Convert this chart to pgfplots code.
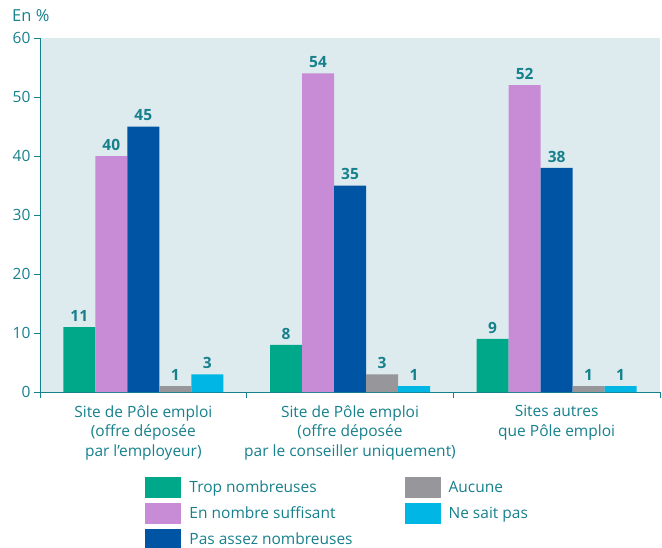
\documentclass[border=0pt]{standalone}
\usepackage{pgfplots}
\pgfplotsset{compat=1.18}
\usepackage{fontspec}
\setmainfont{Open Sans}
\definecolor{tealtxt}{RGB}{22,128,140}
\definecolor{bgc}{RGB}{221,235,238}
\definecolor{cgreen}{RGB}{0,168,138}
\definecolor{clilac}{RGB}{200,140,215}
\definecolor{cblue}{RGB}{0,84,164}
\definecolor{cgray}{RGB}{150,150,155}
\definecolor{ccyan}{RGB}{0,182,228}
\begin{document}
\begin{tikzpicture}[x=1pt,y=1pt]
\path[use as bounding box] (0,0) rectangle (662,547);
\node[anchor=base west, text=tealtxt, font=\fontsize{16.5}{16.5}\selectfont, inner sep=0pt] at (12,525) {En \%};
\begin{axis}[
  at={(40pt,155pt)}, anchor=south west,
  scale only axis, width=620pt, height=354pt,
  xmin=-0.5, xmax=2.5, ymin=0, ymax=60,
  ybar=0pt, bar width=32pt,
  axis lines=left,
  axis line style={-, draw=tealtxt, line width=0.9pt},
  axis background/.style={fill=bgc},
  xtick={-0.5,0.5,1.5,2.5}, xticklabels={},
  extra x ticks={0,1,2},
  extra x tick labels={{Site de Pôle emploi\\(offre déposée\\par l'employeur)},{Site de Pôle emploi\\(offre déposée\\par le conseiller uniquement)},{Sites autres\\que Pôle emploi}},
  extra x tick style={major tick length=0pt, tick label style={align=center, text=tealtxt, font=\fontsize{15.5}{19.5}\selectfont, yshift=-10pt}},
  ytick={0,10,...,60},
  tick align=outside, major tick length=6pt,
  tick style={draw=tealtxt, line width=0.9pt},
  yticklabel style={text=tealtxt, font=\fontsize{15.5}{15.5}\selectfont},
  /pgf/number format/assume math mode=true,
  nodes near coords,
  every node near coord/.append style={font=\bfseries\fontsize{15.5}{15.5}\selectfont, text=tealtxt, yshift=2pt},
  legend columns=3, transpose legend,
  legend style={at={(0.165,-0.234)}, anchor=north west, draw=none, fill=none,
    font=\fontsize{15.5}{15.5}\selectfont, text=tealtxt, row sep=5pt,
    /tikz/every even column/.append style={column sep=50pt}},
  legend image code/.code={\fill[#1] (0pt,-10.5pt) rectangle (36pt,10.5pt); \path (42pt,0pt);},
  legend cell align=left,
]
\addplot[fill=cgreen, draw=none] coordinates {(0,11) (1,8) (2,9)};
\addplot[fill=clilac, draw=none] coordinates {(0,40) (1,54) (2,52)};
\addplot[fill=cblue, draw=none] coordinates {(0,45) (1,35) (2,38)};
\addplot[fill=cgray, draw=none] coordinates {(0,1) (1,3) (2,1)};
\addplot[fill=ccyan, draw=none] coordinates {(0,3) (1,1) (2,1)};
\legend{Trop nombreuses, En nombre suffisant, Pas assez nombreuses, Aucune, Ne sait pas}
\end{axis}
\end{tikzpicture}
\end{document}
